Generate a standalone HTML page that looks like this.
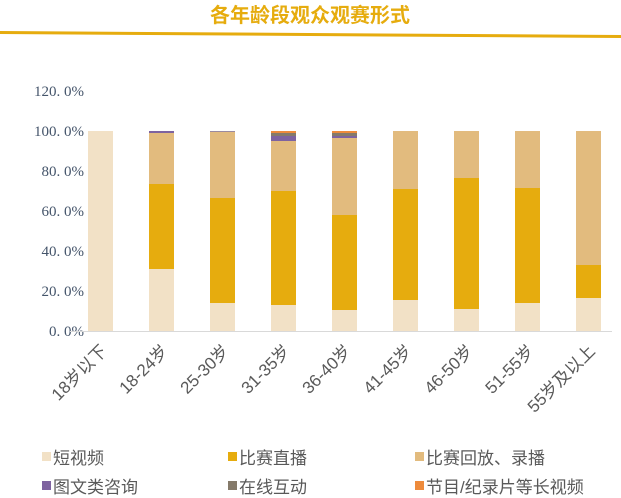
<!DOCTYPE html>
<html><head><meta charset="utf-8"><style>
body{margin:0;background:#fff;}
svg{display:block;}
text{font-family:"Liberation Sans","Noto Sans CJK SC",sans-serif;}
text.ser{font-family:"Liberation Serif","Noto Serif CJK SC",serif;}
</style></head><body>
<svg width="621" height="498" viewBox="0 0 621 498" xmlns="http://www.w3.org/2000/svg">
<text x="310" y="22" text-anchor="middle" font-size="20" font-weight="bold" fill="#E6AC0E">各年龄段观众观赛形式</text>
<polygon points="0,31 621,35 621,38 0,34" fill="#E6AC0E"/>
<g font-size="15" fill="#44546A" text-anchor="end">
<text class="ser" x="84" y="96">120. 0%</text>
<text class="ser" x="84" y="136">100. 0%</text>
<text class="ser" x="84" y="176">80. 0%</text>
<text class="ser" x="84" y="216">60. 0%</text>
<text class="ser" x="84" y="256">40. 0%</text>
<text class="ser" x="84" y="296">20. 0%</text>
<text class="ser" x="84" y="336">0. 0%</text>
</g>
<line x1="70" y1="331.5" x2="612" y2="331.5" stroke="#D9D9D9" stroke-width="1"/>
<g>
<rect x="88" y="131" width="25" height="200" fill="#F2E1C6"/>
<rect x="149" y="269" width="25" height="62" fill="#F2E1C6"/>
<rect x="149" y="184" width="25" height="85" fill="#E6AC0E"/>
<rect x="149" y="133" width="25" height="51" fill="#E2BB7E"/>
<rect x="149" y="131" width="25" height="2" fill="#7E63A0"/>
<rect x="210" y="303" width="25" height="28" fill="#F2E1C6"/>
<rect x="210" y="198" width="25" height="105" fill="#E6AC0E"/>
<rect x="210" y="132" width="25" height="66" fill="#E2BB7E"/>
<rect x="210" y="131" width="25" height="1" fill="#9A8AA0"/>
<rect x="271" y="305" width="25" height="26" fill="#F2E1C6"/>
<rect x="271" y="191" width="25" height="114" fill="#E6AC0E"/>
<rect x="271" y="141" width="25" height="50" fill="#E2BB7E"/>
<rect x="271" y="136" width="25" height="5" fill="#7E63A0"/>
<rect x="271" y="133" width="25" height="3" fill="#857A6A"/>
<rect x="271" y="131" width="25" height="2" fill="#EE8B3C"/>
<rect x="332" y="310" width="25" height="21" fill="#F2E1C6"/>
<rect x="332" y="215" width="25" height="95" fill="#E6AC0E"/>
<rect x="332" y="138" width="25" height="77" fill="#E2BB7E"/>
<rect x="332" y="136" width="25" height="2" fill="#7E63A0"/>
<rect x="332" y="133" width="25" height="3" fill="#857A6A"/>
<rect x="332" y="131" width="25" height="2" fill="#EE8B3C"/>
<rect x="393" y="300" width="25" height="31" fill="#F2E1C6"/>
<rect x="393" y="189" width="25" height="111" fill="#E6AC0E"/>
<rect x="393" y="131" width="25" height="58" fill="#E2BB7E"/>
<rect x="454" y="309" width="25" height="22" fill="#F2E1C6"/>
<rect x="454" y="178" width="25" height="131" fill="#E6AC0E"/>
<rect x="454" y="131" width="25" height="47" fill="#E2BB7E"/>
<rect x="515" y="303" width="25" height="28" fill="#F2E1C6"/>
<rect x="515" y="188" width="25" height="115" fill="#E6AC0E"/>
<rect x="515" y="131" width="25" height="57" fill="#E2BB7E"/>
<rect x="576" y="298" width="25" height="33" fill="#F2E1C6"/>
<rect x="576" y="265" width="25" height="33" fill="#E6AC0E"/>
<rect x="576" y="131" width="25" height="134" fill="#E2BB7E"/>
</g>
<g font-size="17" fill="#595959" text-anchor="end">
<text transform="translate(108,352) rotate(-45)">18岁以下</text>
<text transform="translate(169,352) rotate(-45)">18-24岁</text>
<text transform="translate(230,352) rotate(-45)">25-30岁</text>
<text transform="translate(291,352) rotate(-45)">31-35岁</text>
<text transform="translate(352,352) rotate(-45)">36-40岁</text>
<text transform="translate(413,352) rotate(-45)">41-45岁</text>
<text transform="translate(474,352) rotate(-45)">46-50岁</text>
<text transform="translate(535,352) rotate(-45)">51-55岁</text>
<text transform="translate(596,352) rotate(-45)">55岁及以上</text>
</g>
<g font-size="17" fill="#595959">
<rect x="42" y="452" width="9" height="9" fill="#F2E1C6"/><text x="53" y="464">短视频</text>
<rect x="228" y="452" width="9" height="9" fill="#E6AC0E"/><text x="239" y="464">比赛直播</text>
<rect x="415" y="452" width="9" height="9" fill="#E2BB7E"/><text x="426" y="464">比赛回放、录播</text>
<rect x="42" y="481" width="9" height="9" fill="#7E63A0"/><text x="53" y="493">图文类咨询</text>
<rect x="228" y="481" width="9" height="9" fill="#857A6A"/><text x="239" y="493">在线互动</text>
<rect x="415" y="481" width="9" height="9" fill="#EE8B3C"/><text x="426" y="493">节目/纪录片等长视频</text>
</g>
</svg>
</body></html>
